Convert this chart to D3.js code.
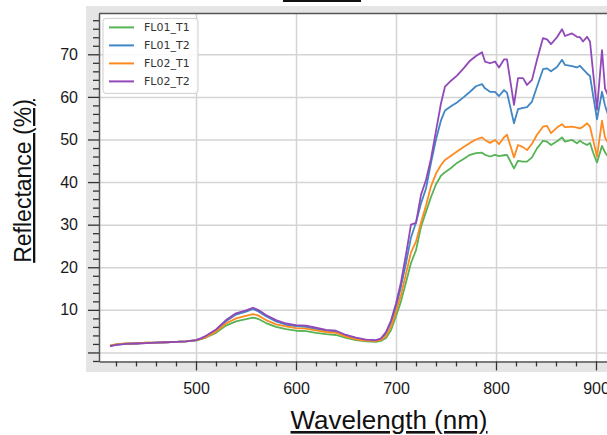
<!DOCTYPE html>
<html>
<head>
<meta charset="utf-8">
<script src="https://cdn.jsdelivr.net/npm/d3@7"></script>
<style>
body { margin: 0; overflow: hidden; background: #fff; }
.tick-label { font-family: "Liberation Sans", Arial, sans-serif; font-size: 16px; fill: #1a1a1a; }
.axis-title { font-family: "Liberation Sans", Arial, sans-serif; fill: #111; text-decoration: underline; }
.legend-text { font-family: "DejaVu Sans", sans-serif; font-size: 11px; fill: #333; }
</style>
</head>
<body>
<div id="chart"></div>
<script>
// wavelength samples (nm)
const wavelengths = [414, 420, 430, 440, 450, 460, 470, 480, 490, 500, 505, 510, 520, 530, 540, 550, 557, 562, 570, 580,
  590, 600, 610, 620, 630, 640, 650, 660, 670, 680, 685, 690, 695, 700, 705, 710, 715, 720, 725, 730,
  735, 740, 745, 749, 755, 761, 768, 774, 780, 786, 789, 794, 799, 803, 808, 811, 818, 822, 827, 831,
  836, 841, 847, 851, 855, 861, 866, 869, 876, 881, 884, 887, 891, 894, 897, 901, 906, 909, 912];

const fl01T1 = [1.6, 1.9, 2.1, 2.1, 2.3, 2.3, 2.4, 2.5, 2.6, 2.8, 3.1, 3.5, 4.6, 6.3, 7.3, 7.8, 8.2, 7.9, 6.9, 6.0,
  5.5, 5.1, 5.0, 4.6, 4.3, 4.1, 3.4, 2.9, 2.6, 2.5, 2.7, 3.4, 5.2, 8.5, 12.0, 16.5, 21.0, 24.0, 29.5, 33.0,
  36.5, 39.5, 41.5, 42.3, 43.3, 44.5, 45.5, 46.4, 46.8, 46.9, 46.4, 46.0, 46.4, 46.1, 46.3, 46.4, 43.2, 45.0, 44.8, 44.8,
  45.8, 47.9, 49.7, 49.5, 48.7, 49.6, 50.5, 49.5, 49.9, 49.1, 49.7, 49.2, 48.7, 49.2, 47.0, 44.6, 48.5, 47.0, 46.0];

const fl01T2 = [1.5, 1.8, 2.0, 2.1, 2.2, 2.3, 2.4, 2.5, 2.6, 2.9, 3.3, 3.8, 5.2, 7.3, 8.9, 9.6, 10.2, 9.7, 8.5, 7.3,
  6.5, 6.2, 6.0, 5.5, 5.1, 4.8, 3.9, 3.3, 2.9, 2.8, 3.1, 4.4, 7.0, 10.5, 15.5, 21.0, 27.0, 30.5, 35.0, 38.5,
  44.5, 50.0, 54.5, 56.8, 57.8, 58.7, 60.0, 61.2, 62.5, 63.0, 62.0, 61.2, 61.2, 60.2, 61.6, 61.0, 53.8, 57.1, 57.4, 57.6,
  58.9, 62.4, 66.5, 66.7, 66.0, 67.0, 68.7, 67.5, 67.2, 66.9, 67.3, 66.5, 65.5, 64.9, 60.5, 54.7, 61.2, 58.0, 55.8];

const fl02T1 = [1.6, 1.9, 2.1, 2.1, 2.3, 2.3, 2.4, 2.5, 2.6, 2.9, 3.2, 3.6, 4.9, 6.8, 8.0, 8.6, 9.0, 8.7, 7.6, 6.6,
  6.1, 5.7, 5.6, 5.2, 4.8, 4.6, 3.7, 3.1, 2.8, 2.7, 2.9, 3.9, 6.0, 9.5, 13.5, 18.5, 23.5, 26.0, 30.5, 34.5,
  39.0, 42.0, 44.0, 45.2, 46.2, 47.2, 48.3, 49.2, 50.0, 50.5, 49.9, 49.2, 49.9, 48.9, 50.5, 51.1, 45.8, 48.7, 48.2, 47.5,
  49.0, 51.1, 53.0, 53.2, 51.5, 52.8, 53.6, 52.9, 53.0, 52.8, 52.6, 53.0, 53.8, 53.0, 50.0, 46.0, 54.4, 50.5, 49.2];

const fl02T2 = [1.5, 1.8, 2.0, 2.1, 2.2, 2.3, 2.4, 2.5, 2.6, 2.9, 3.3, 3.9, 5.4, 7.6, 9.2, 9.9, 10.5, 10.0, 8.8, 7.6,
  6.8, 6.4, 6.3, 5.8, 5.3, 5.1, 4.1, 3.5, 3.0, 2.9, 3.3, 4.8, 7.5, 11.5, 16.5, 23.0, 30.0, 30.4, 37.0, 40.5,
  45.5, 52.0, 58.5, 62.4, 63.8, 65.0, 66.8, 68.5, 69.6, 70.5, 68.3, 67.9, 68.3, 66.9, 68.8, 68.8, 58.1, 64.4, 64.4, 62.8,
  64.0, 68.7, 73.8, 73.5, 72.4, 74.0, 75.9, 74.3, 74.9, 74.1, 74.0, 73.0, 74.1, 73.0, 66.0, 57.0, 71.0, 62.0, 60.4];

const seriesNames = ["FL01_T1", "FL01_T2", "FL02_T1", "FL02_T2"];
const seriesValues = [fl01T1, fl01T2, fl02T1, fl02T2];
const seriesColors = ["#56b356", "#4186c5", "#ff8a1f", "#9148b8"];

const xMajorTicks = [500, 600, 700, 800, 900];
const xMinorTicks = [420, 440, 460, 480, 520, 540, 560, 580, 620, 640, 660, 680, 720, 740, 760, 780, 820, 840, 860, 880, 920, 940, 960, 980];
const yMajorTicks = [0, 10, 20, 30, 40, 50, 60, 70];
const yTickLabels = ["", "10", "20", "30", "40", "50", "60", "70"];
const yMinorTicks = [-2, 2, 4, 6, 8, 12, 14, 16, 18, 22, 24, 26, 28, 32, 34, 36, 38, 42, 44, 46, 48, 52, 54, 56, 58, 62, 64, 66, 68, 72, 74, 76, 78];

const config = {
    width: 700,
    height: 435,
    padding: {top: 13.4, left: 99},
    innerWidth: 597,
    innerHeight: 348,
    xDomain: [403, 1000],
    yDomain: [-2.1, 79.6]
};

const svg = d3.select("#chart").append("svg")
    .attr("width", config.width)
    .attr("height", config.height);

// gray widget background
svg.append("rect")
    .attr("x", 86).attr("y", 6)
    .attr("width", config.width).attr("height", 366)
    .attr("fill", "#e5e5e5");

// title underline (title itself is above the visible area)
svg.append("rect")
    .attr("x", 283).attr("y", 0)
    .attr("width", 78).attr("height", 2)
    .attr("fill", "#111");

const g = svg.append("g")
    .attr("transform", `translate(${config.padding.left},${config.padding.top})`);

const scale = {
    x: d3.scaleLinear().domain(config.xDomain).range([0, config.innerWidth]),
    y: d3.scaleLinear().domain(config.yDomain).range([config.innerHeight, 0])
};

g.append("rect")
    .attr("width", config.innerWidth).attr("height", config.innerHeight)
    .attr("fill", "#fff");

// grid
g.append("g")
    .attr("transform", `translate(0,${config.innerHeight})`)
    .call(d3.axisBottom(scale.x).tickValues(xMajorTicks).tickSize(-config.innerHeight).tickFormat(""))
    .call(a => a.select(".domain").remove())
    .selectAll("line").attr("stroke", "#d4d4d4").attr("stroke-width", 1.5);

g.append("g")
    .call(d3.axisLeft(scale.y).tickValues(yMajorTicks).tickSize(-config.innerWidth).tickFormat(""))
    .call(a => a.select(".domain").remove())
    .selectAll("line").attr("stroke", "#d4d4d4").attr("stroke-width", 1.5);

// lines
g.append("clipPath").attr("id", "plot-clip")
    .append("rect").attr("width", config.innerWidth).attr("height", config.innerHeight);

const line = d3.line()
    .x((d, i) => scale.x(wavelengths[i]))
    .y(d => scale.y(d));

g.append("g").attr("clip-path", "url(#plot-clip)")
    .selectAll("path")
    .data(seriesValues)
    .enter().append("path")
    .attr("d", line)
    .attr("fill", "none")
    .attr("stroke", (d, i) => seriesColors[i])
    .attr("stroke-width", 1.8)
    .attr("stroke-linejoin", "round");

// axes
const xAxis = g.append("g")
    .attr("transform", `translate(0,${config.innerHeight})`)
    .call(d3.axisBottom(scale.x).tickValues(xMajorTicks).tickSize(9).tickPadding(12).tickSizeOuter(0));
xAxis.selectAll("text").attr("class", "tick-label").attr("font-size", null).attr("font-family", null);

g.append("g")
    .attr("transform", `translate(0,${config.innerHeight})`)
    .call(d3.axisBottom(scale.x).tickValues(xMinorTicks).tickSize(5).tickFormat("").tickSizeOuter(0))
    .call(a => a.select(".domain").remove());

const yAxis = g.append("g")
    .call(d3.axisLeft(scale.y).tickValues(yMajorTicks).tickSize(11).tickPadding(10).tickSizeOuter(0)
        .tickFormat((d, i) => yTickLabels[i]));
yAxis.selectAll("text").attr("class", "tick-label").attr("font-size", null).attr("font-family", null);

g.append("g")
    .call(d3.axisLeft(scale.y).tickValues(yMinorTicks).tickSize(6).tickFormat("").tickSizeOuter(0))
    .call(a => a.select(".domain").remove());

g.selectAll(".domain").attr("stroke", "#555").attr("stroke-width", 1.5);
g.selectAll(".tick line").filter(function () { return this.getAttribute("stroke") === "currentColor"; })
    .attr("stroke", "#333").attr("stroke-width", 1.3);

// top spine
g.append("line")
    .attr("x1", 0).attr("x2", config.innerWidth)
    .attr("y1", 0).attr("y2", 0)
    .attr("stroke", "#555").attr("stroke-width", 1.5);

// axis titles
svg.append("text")
    .attr("class", "axis-title")
    .attr("x", 389).attr("y", 429)
    .attr("text-anchor", "middle")
    .attr("font-size", 26)
    .text("Wavelength (nm)");

svg.append("text")
    .attr("class", "axis-title")
    .attr("transform", "translate(31,181) rotate(-90)")
    .attr("text-anchor", "middle")
    .attr("font-size", 23)
    .text("Reflectance (%)");

// legend
const legend = g.append("g").attr("transform", "translate(4,5)");
legend.append("rect")
    .attr("width", 95).attr("height", 75).attr("rx", 3)
    .attr("fill", "#fff").attr("fill-opacity", 0.85)
    .attr("stroke", "#cfcfcf");

const item = legend.selectAll(".legend-item")
    .data(seriesNames)
    .enter().append("g")
    .attr("class", "legend-item")
    .attr("transform", (d, i) => `translate(0,${9 + i * 18})`);

item.append("line")
    .attr("x1", 6).attr("x2", 31)
    .attr("stroke", (d, i) => seriesColors[i])
    .attr("stroke-width", 2);

item.append("text")
    .attr("class", "legend-text")
    .attr("x", 41).attr("dy", "0.36em")
    .text(d => d);
</script>
</body>
</html>
